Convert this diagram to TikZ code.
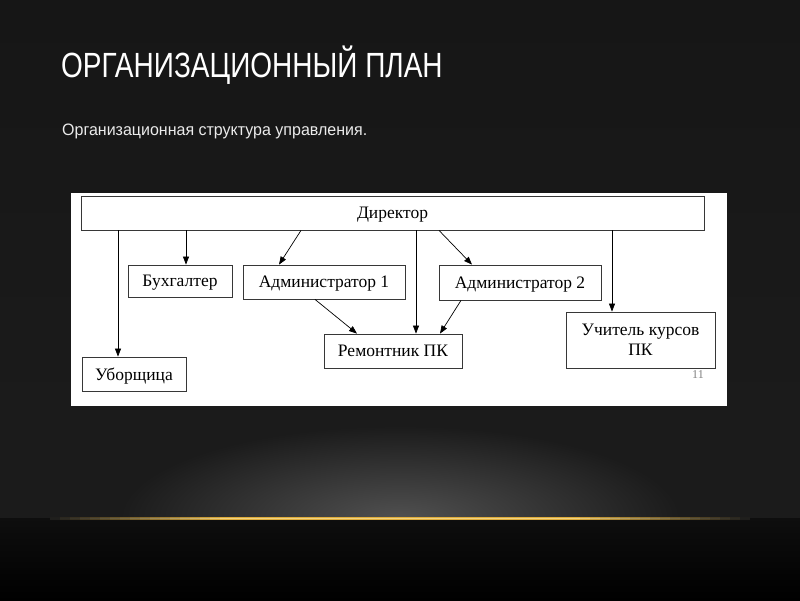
\documentclass[tikz,border=0pt]{standalone}
\usepackage{fontspec}
\setmainfont{Liberation Serif}
\newfontfamily\slidefont{Liberation Sans}
\usetikzlibrary{arrows.meta}

\definecolor{bgtop}{RGB}{22,22,22}
\definecolor{bgmid}{RGB}{36,36,36}
\definecolor{bglow}{RGB}{27,27,27}
\definecolor{bgfoot}{RGB}{14,14,14}
\definecolor{glowgray}{RGB}{80,80,80}
\definecolor{gold}{RGB}{222,172,60}
\definecolor{goldhi}{RGB}{240,210,130}
\definecolor{boxline}{RGB}{55,55,55}

\begin{document}
\begin{tikzpicture}[x=1pt,y=-1pt,
        box/.style={draw=boxline, line width=0.8pt, fill=white, inner sep=0pt, align=center, text depth=0pt, font=\fontsize{17.5}{20}\selectfont},
        arr/.style={draw=black, line width=0.7pt, -{Triangle[length=8pt,width=6pt]}}]
            \useasboundingbox (0,0) rectangle (800,600);
            % slide background
            \shade [top color=bgtop, middle color=bgmid, bottom color=bglow] (0,0) rectangle (800,424);
            \fill [bglow] (0,423.5) rectangle (800,518);
            \shade [top color=bgfoot, bottom color=black] (0,518) rectangle (800,600);
            \begin{scope}
                \clip (0,0) rectangle (800,518);
                \shade [inner color=glowgray, outer color=bglow] (400,518) ellipse (280 and 92);
            \end{scope}
            % golden streak
            \foreach \i in {0,...,69} {
                \pgfmathtruncatemacro\pct{100*max(0,min(1,2*(1-abs(\i*10+55-400)/350)))}
                \fill [gold!\pct!bglow] (50+\i*10,516.5) rectangle ++(10.4,3);
                \fill [goldhi!\pct!bglow] (50+\i*10,517.5) rectangle ++(10.4,1);
            }

            \node [anchor=base west, text=white, inner sep=0pt, font=\slidefont\fontsize{35}{40}\selectfont] (title) at (61,77) {\scalebox{0.8}[1]{ОРГАНИЗАЦИОННЫЙ ПЛАН}};
            \node [anchor=base west, text=white!92!black, inner sep=0pt, font=\slidefont\fontsize{16.5}{20}\selectfont] (subtitle) at (62,135) {\scalebox{0.97}[1]{Организационная структура управления.}};

            % the scanned chart
            \fill [white] (71,193) rectangle (727,406);
            \node [box, minimum width=623pt, minimum height=34pt] (director) at (392.5,213) {Директор};
            \node [box, minimum width=104pt, minimum height=32pt] (buh) at (180,281) {Бухгалтер};
            \node [box, minimum width=162pt, minimum height=34pt] (adm1) at (324,282) {Администратор 1};
            \node [box, minimum width=162pt, minimum height=35pt] (adm2) at (520,282.5) {Администратор 2};
            \node [box, minimum width=138pt, minimum height=34pt] (rem) at (393,351) {Ремонтник ПК};
            \node [box, minimum width=104pt, minimum height=34pt] (ubo) at (134,374) {Уборщица};
            \node [box, minimum width=149pt, minimum height=56pt] (teacher) at (640.5,340) {Учитель курсов\\ПК};
            \node [text=gray, inner sep=0pt, font=\fontsize{12}{14}\selectfont] (pagenum) at (698,375) {11};

            \draw [arr] ([xshift=-16pt]ubo.north |- director.south) -- ([xshift=-16pt]ubo.north);
            \draw [arr] ([xshift=6pt]buh.north |- director.south) -- ([xshift=6pt]buh.north);
            \draw [arr] ([xshift=-91.5pt]director.south) -- ([xshift=-45pt]adm1.north);
            \draw [arr] ([xshift=23pt]rem.north |- director.south) -- ([xshift=23pt]rem.north);
            \draw [arr] ([xshift=46.5pt]director.south) -- ([xshift=-48pt]adm2.north);
            \draw [arr] ([xshift=-28.5pt]teacher.north |- director.south) -- ([xshift=-28.5pt]teacher.north);
            \draw [arr] ([xshift=-9pt]adm1.south) -- ([xshift=-36pt]rem.north);
            \draw [arr] ([xshift=-59pt]adm2.south) -- ([xshift=47pt]rem.north);
        \end{tikzpicture}
\end{document}
